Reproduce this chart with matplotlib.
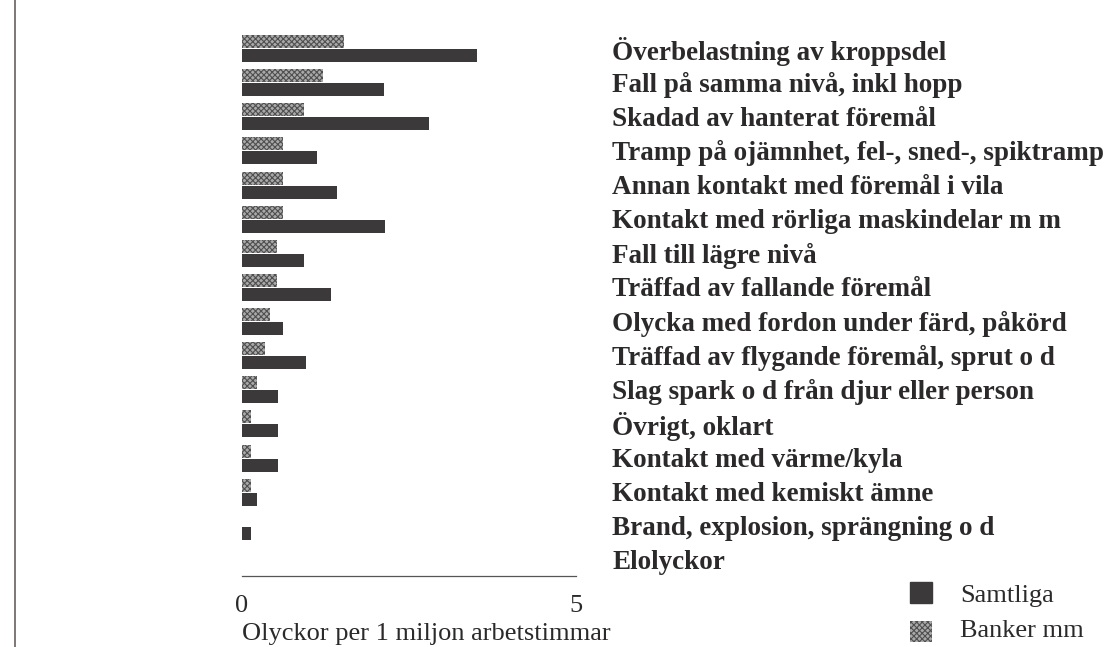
import matplotlib
matplotlib.use("Agg")
import matplotlib.pyplot as plt
from matplotlib.lines import Line2D
import numpy as np

categories = [
    "Överbelastning av kroppsdel",
    "Fall på samma nivå, inkl hopp",
    "Skadad av hanterat föremål",
    "Tramp på ojämnhet, fel-, sned-, spiktramp",
    "Annan kontakt med föremål i vila",
    "Kontakt med rörliga maskindelar m m",
    "Fall till lägre nivå",
    "Träffad av fallande föremål",
    "Olycka med fordon under färd, påkörd",
    "Träffad av flygande föremål, sprut o d",
    "Slag spark o d från djur eller person",
    "Övrigt, oklart",
    "Kontakt med värme/kyla",
    "Kontakt med kemiskt ämne",
    "Brand, explosion, sprängning o d",
    "Elolyckor",
]
samtliga = [3.52, 2.13, 2.80, 1.12, 1.42, 2.14, 0.93, 1.33, 0.61, 0.96,
            0.54, 0.54, 0.54, 0.22, 0.14, 0.0]
banker = [1.53, 1.21, 0.93, 0.61, 0.61, 0.61, 0.52, 0.52, 0.42, 0.34,
          0.22, 0.13, 0.13, 0.13, 0.0, 0.0]
x_ticks = [0, 5]
x_label = "Olyckor per 1 miljon arbetstimmar"
legend_labels = ["Samtliga", "Banker mm"]

plt.rcParams["font.family"] = ["Liberation Serif", "DejaVu Serif"]
plt.rcParams["hatch.linewidth"] = 0.8

W, H = 1111, 647
fig = plt.figure(figsize=(W / 100, H / 100), dpi=100)
fig.patch.set_facecolor("white")

# axes placed in pixel terms: left 242, right 576, top 31, bottom 576
ax = fig.add_axes([242 / W, 1 - 576 / H, (576 - 242) / W, (576 - 31) / H])

dark = "#3b393a"
light = "#a9a9a9"
hatch_col = "#4f4f4f"
text_col = "#2b2929"
y = np.arange(len(categories))
bh = 0.38

ax.barh(y - bh / 2, banker, height=bh, color=light, edgecolor=hatch_col,
        hatch="xxxxxx", linewidth=0)
ax.barh(y + bh / 2 + 0.03, samtliga, height=bh, color=dark, linewidth=0)

ax.set_xlim(0, 5)
ax.set_ylim(15.47, -0.5)
for s in ["top", "right", "left"]:
    ax.spines[s].set_visible(False)
ax.spines["bottom"].set_color("#555555")
ax.spines["bottom"].set_linewidth(0.9)

ax.set_xticks(x_ticks)
ax.set_xticklabels([str(t) for t in x_ticks], fontsize=19, color=text_col)
ax.tick_params(axis="x", length=0, pad=14)

ax.set_yticks(y)
ax.set_yticklabels(categories, fontsize=19.5, fontweight="bold", color=text_col)
ax.yaxis.tick_right()
ax.tick_params(axis="y", length=0, pad=26)

ax.set_xlabel(x_label, fontsize=19, color=text_col, loc="left", labelpad=4)

# legend drawn by hand at lower right
fig.patches.append(plt.Rectangle((910 / W, 1 - 603 / H), 22 / W, 21 / H,
                                 transform=fig.transFigure, color=dark))
fig.patches.append(plt.Rectangle((910 / W, 1 - 642 / H), 22 / W, 21 / H,
                                 transform=fig.transFigure, facecolor=light,
                                 edgecolor=hatch_col, hatch="xxxxxx", linewidth=0))
fig.text(960 / W, 1 - 596 / H, legend_labels[0], fontsize=19, color=text_col,
         va="center", ha="left")
fig.text(960 / W, 1 - 631 / H, legend_labels[1], fontsize=19, color=text_col,
         va="center", ha="left")

# scan edge line on the left
fig.add_artist(Line2D([14.5 / W, 14.5 / W], [0, 1], transform=fig.transFigure,
                      color="#6a5f60", linewidth=1.2))

fig.savefig("out.png", dpi=100)
